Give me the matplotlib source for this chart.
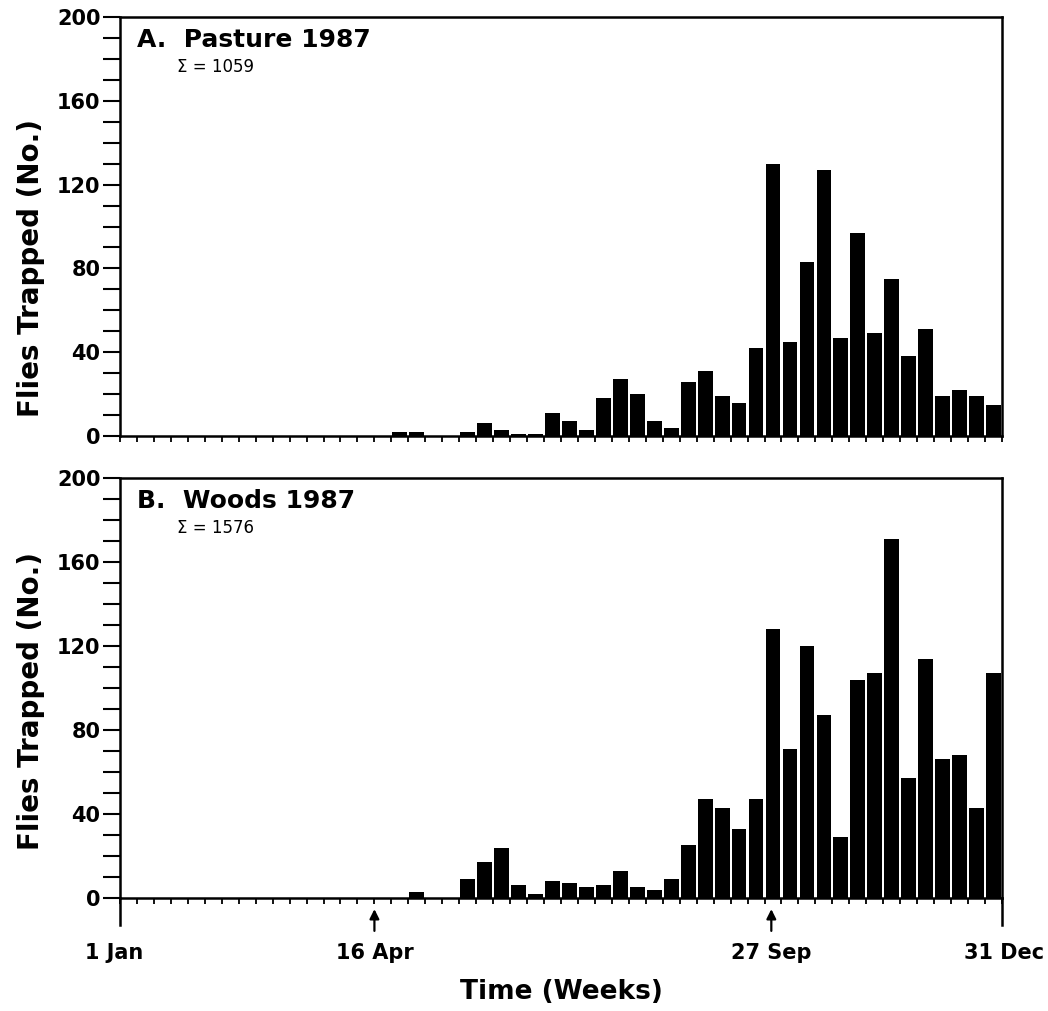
import matplotlib.pyplot as plt
import matplotlib.transforms as mtransforms
import numpy as np

plt.rcParams['font.family'] = ['DejaVu Sans']
plt.rcParams['font.weight'] = 'bold'

# === Dados: moscas capturadas por semana (1987) ===
semanas = np.arange(52)
pasture_1987 = [0, 0, 0, 0, 0, 0, 0, 0, 0, 0, 0, 0, 0, 0, 0, 0,
                2, 2, 0, 0, 2, 6, 3, 1, 1, 11, 7, 3, 18, 27, 20, 7,
                4, 26, 31, 19, 16, 42, 130, 45, 83, 127, 47, 97, 49, 75,
                38, 51, 19, 22, 19, 15]
woods_1987 = [0, 0, 0, 0, 0, 0, 0, 0, 0, 0, 0, 0, 0, 0, 0, 0, 0,
              3, 0, 0, 9, 17, 24, 6, 2, 8, 7, 5, 6, 13, 5, 4, 9, 25,
              47, 43, 33, 47, 128, 71, 120, 87, 29, 104, 107, 171, 57,
              114, 66, 68, 43, 107]

paineis = ['A.  Pasture 1987', 'B.  Woods 1987']
totais = ['\u03a3 = 1059', '\u03a3 = 1576']

datas_labels = ['1 Jan', '16 Apr', '27 Sep', '31 Dec']
datas_semanas = [0, 15, 38.4, 52]
setas_semanas = [15, 38.4]

fig = plt.figure(figsize=(10.48, 10.11), dpi=100)
ax_a = fig.add_axes([0.1145, 0.5687, 0.8416, 0.4145])
ax_b = fig.add_axes([0.1145, 0.1118, 0.8416, 0.4154])

for ax, valores, titulo, total, ypos in zip([ax_a, ax_b], [pasture_1987, woods_1987],
                                             paineis, totais, [0.40, 0.47]):
    ax.bar(semanas + 0.5, valores, width=0.87, color='black')
    ax.set_xlim(0, 52)
    ax.set_ylim(0, 200)
    ax.set_yticks(np.arange(0, 201, 40))
    ax.set_yticks(np.arange(0, 201, 10), minor=True)
    ax.set_xticks(np.arange(0, 53, 1))
    ax.set_xticklabels([])
    ax.tick_params(axis='y', which='both', direction='out', length=12, width=1.5,
                   labelsize=15, pad=2)
    ax.tick_params(axis='x', which='both', direction='out', length=4, width=1.3)
    for s in ax.spines.values():
        s.set_linewidth(1.8)
    ax.set_ylabel('Flies Trapped (No.)', fontsize=20, fontweight='bold')
    ax.yaxis.set_label_coords(-0.085, ypos)
    ax.text(0.019, 0.928, titulo, transform=ax.transAxes, fontsize=18, va='baseline')
    ax.text(0.065, 0.88, total, transform=ax.transAxes, fontsize=12, va='center',
            fontweight='normal')

# === Eixo de datas no painel B ===
trans = mtransforms.blended_transform_factory(ax_b.transData, ax_b.transAxes)
for x in [0, 52]:
    ax_b.plot([x, x], [0, -0.065], transform=trans, color='black', lw=1.8, clip_on=False)
for x in setas_semanas:
    ax_b.annotate('', xy=(x, -0.02), xytext=(x, -0.085), xycoords=trans, textcoords=trans,
                  arrowprops=dict(arrowstyle='-|>', color='black', lw=1.6, mutation_scale=14))
for x, lab in zip(datas_semanas, datas_labels):
    ha = 'center'
    if x == 0:
        ha = 'right'
        x = 1.4
    elif x == 52:
        x = 52.1
    ax_b.text(x, -0.13, lab, transform=trans, ha=ha, va='center', fontsize=15)
ax_b.text(0.5, -0.225, 'Time (Weeks)', transform=ax_b.transAxes, ha='center', va='center',
          fontsize=19)

plt.savefig('out.png', dpi=100)
